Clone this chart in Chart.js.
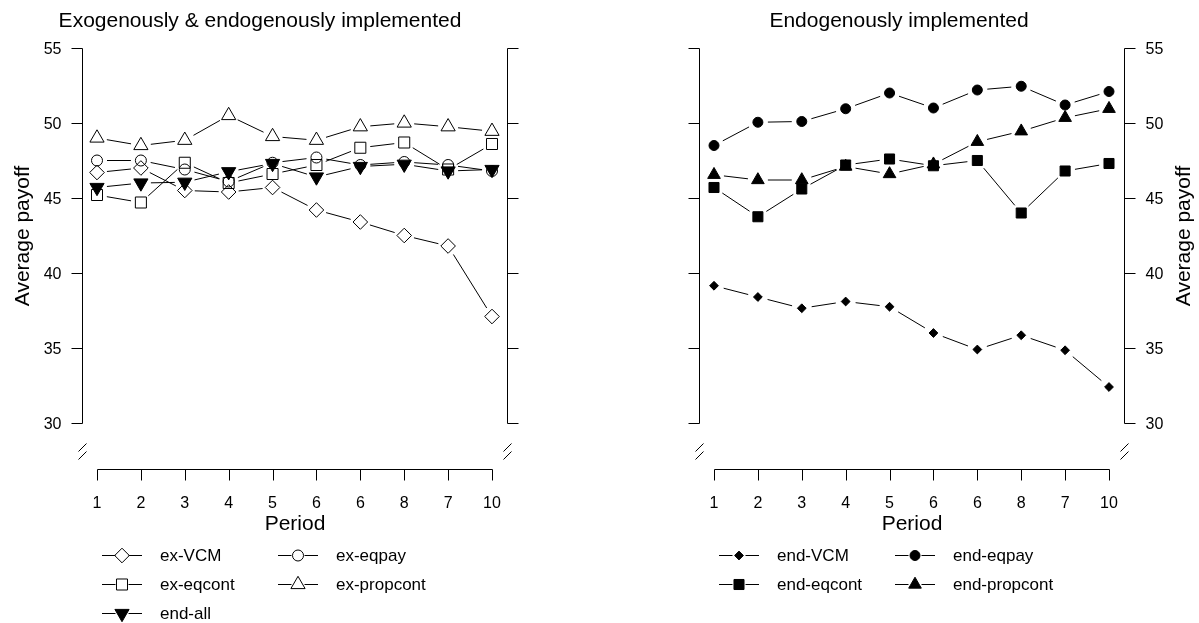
<!DOCTYPE html>
<html><head><meta charset="utf-8">
<script src="https://cdn.jsdelivr.net/npm/chart.js@4/dist/chart.umd.min.js"></script>
<style>
html,body{margin:0;padding:0;background:#fff;overflow:hidden}
#wrap{position:relative;width:1199px;height:623px;background:#fff}
canvas{position:absolute;top:0}
</style></head><body>
<div id="wrap">
<canvas id="left" width="600" height="623" style="left:0"></canvas>
<canvas id="right" width="599" height="623" style="left:600px"></canvas>
</div>
<script>
// ---- data ----
const categories = ['1','2','3','4','5','6','6','8','7','10'];
const yTickValues = [30, 35, 40, 45, 50, 55];

const leftTitle = 'Exogenously & endogenously implemented';
const rightTitle = 'Endogenously implemented';
const xTitle = 'Period';
const yTitle = 'Average payoff';

const exVCM      = [46.7, 47.0, 45.5, 45.4, 45.7, 44.2, 43.4, 42.5, 41.8, 37.1];
const exEqpay    = [47.5, 47.5, 46.9, 46.1, 47.35, 47.7, 47.2, 47.4, 47.2, 46.8];
const exEqcont   = [45.2, 44.7, 47.35, 46.0, 46.6, 47.2, 48.35, 48.7, 46.9, 48.6];
const exPropcont = [49.0, 48.5, 48.85, 50.5, 49.1, 48.85, 49.75, 50.0, 49.75, 49.45];
const endAll     = [45.7, 46.0, 46.05, 46.75, 47.3, 46.4, 47.1, 47.25, 46.8, 46.9];

const endVCM      = [39.15, 38.4, 37.65, 38.1, 37.75, 36.0, 34.9, 35.85, 34.85, 32.4];
const endEqpay    = [48.5, 50.05, 50.1, 50.95, 52.0, 51.0, 52.2, 52.45, 51.2, 52.1];
const endEqcont   = [45.7, 43.75, 45.6, 47.2, 47.6, 47.15, 47.5, 44.0, 46.8, 47.3];
const endPropcont = [46.55, 46.2, 46.2, 47.1, 46.6, 47.25, 48.75, 49.45, 50.35, 50.95];

// ---- styles ----
const FONT = '"Liberation Sans", Arial, Helvetica, sans-serif';
const MARK = {
  openDiamond:  {pointStyle:'rectRot',  radius:7.3, fill:false, rot:0},
  openCircle:   {pointStyle:'circle',   radius:5.5, fill:false, rot:0},
  openSquare:   {pointStyle:'rect',     radius:7.8, fill:false, rot:0},
  openTriangle: {pointStyle:'triangle', radius:8.2, fill:false, rot:0},
  downTriangle: {pointStyle:'triangle', radius:8.2, fill:true,  rot:180},
  smallDiamond: {pointStyle:'rectRot',  radius:4.4, fill:true,  rot:0},
  dot:          {pointStyle:'circle',   radius:5.0, fill:true,  rot:0},
  square:       {pointStyle:'rect',     radius:7.1, fill:true,  rot:0},
  triangle:     {pointStyle:'triangle', radius:7.3, fill:true,  rot:0}
};

function gapDash(ctx) {
  const L = Math.hypot(ctx.p1.x - ctx.p0.x, ctx.p1.y - ctx.p0.y);
  const g = 10;
  const d = Math.max(L - 2 * g, 0) + ctx.p0DataIndex * 1e-4;
  return [0, g, d, L + 200];
}

function mkDataset(label, data, m) {
  return {
    label, data,
    borderColor: '#000', borderWidth: 1,
    pointStyle: m.pointStyle, pointRadius: m.radius, pointHoverRadius: m.radius,
    pointRotation: m.rot,
    pointBackgroundColor: m.fill ? '#000' : 'rgba(0,0,0,0)',
    pointBorderColor: '#000', pointBorderWidth: 1,
    fill: false, tension: 0, clip: false,
    segment: { borderDash: gapDash },
    _mark: m
  };
}

function drawMarker(ctx, m, x, y) {
  ctx.save();
  ctx.strokeStyle = '#000';
  ctx.fillStyle = m.fill ? '#000' : 'rgba(0,0,0,0)';
  ctx.lineWidth = 1;
  if (Chart.helpers && Chart.helpers.drawPoint) {
    Chart.helpers.drawPoint(ctx, {pointStyle: m.pointStyle, radius: m.radius, rotation: m.rot, borderWidth: 1}, x, y);
  }
  ctx.restore();
}

function panelPlugin(cfg) {
  return {
    id: 'panel_' + cfg.id,
    beforeDatasetsDraw(chart) {
      const {ctx, chartArea: ca} = chart;
      const x = chart.scales.x, y = chart.scales.y;
      const axL = Math.round(ca.left - 15) + 0.5;
      const axR = Math.round(ca.right + 15) + 0.5;
      const yTop = Math.round(y.getPixelForValue(yTickValues[yTickValues.length - 1])) + 0.5;
      const yBot = Math.round(y.getPixelForValue(yTickValues[0])) + 0.5;
      ctx.save();
      ctx.strokeStyle = '#000';
      ctx.lineWidth = 1;
      ctx.beginPath();
      [axL, axR].forEach((ax, k) => {
        const dir = k === 0 ? -1 : 1;
        ctx.moveTo(ax, yTop); ctx.lineTo(ax, yBot);
        yTickValues.forEach(v => {
          const py = Math.round(y.getPixelForValue(v)) + 0.5;
          ctx.moveTo(ax, py); ctx.lineTo(ax + dir * 11, py);
        });
        ctx.moveTo(ax - 4, yBot + 28); ctx.lineTo(ax + 4, yBot + 20);
        ctx.moveTo(ax - 4, yBot + 36); ctx.lineTo(ax + 4, yBot + 28);
      });
      const xa = yBot + 46;
      const x0 = Math.round(x.getPixelForValue(0)) + 0.5;
      const x1 = Math.round(x.getPixelForValue(categories.length - 1)) + 0.5;
      ctx.moveTo(x0, xa); ctx.lineTo(x1, xa);
      categories.forEach((c, i) => {
        const px = Math.round(x.getPixelForValue(i)) + 0.5;
        ctx.moveTo(px, xa); ctx.lineTo(px, xa + 11);
      });
      ctx.stroke();

      ctx.fillStyle = '#000';
      ctx.font = '16px ' + FONT;
      ctx.textBaseline = 'alphabetic';
      yTickValues.forEach(v => {
        const py = y.getPixelForValue(v) + 5.7;
        if (cfg.labelSide === 'left') { ctx.textAlign = 'right'; ctx.fillText(String(v), axL - 21, py); }
        else { ctx.textAlign = 'left'; ctx.fillText(String(v), axR + 21, py); }
      });
      ctx.textAlign = 'center';
      categories.forEach((c, i) => {
        ctx.fillText(c, x.getPixelForValue(i), xa + 38);
      });
      ctx.font = '21px ' + FONT;
      ctx.fillText(xTitle, (x0 + x1) / 2, xa + 60);
      ctx.fillText(cfg.title, cfg.titleX, 27);
      // y title
      ctx.save();
      const ty = (yTop + yBot) / 2;
      const tx = cfg.labelSide === 'left' ? axL - 59 : axR + 60;
      ctx.translate(tx, ty);
      ctx.rotate(-Math.PI / 2);
      ctx.textBaseline = 'middle';
      ctx.fillText(yTitle, 0, 0);
      ctx.restore();
      ctx.restore();
    },
    afterDatasetsDraw(chart) {
      const {ctx, chartArea: ca} = chart;
      const ds = chart.data.datasets;
      const base = ca.left;
      const colOffsets = [5, 181];
      const rowYs = [555, 584, 613];
      ctx.save();
      ctx.font = '17px ' + FONT;
      ctx.fillStyle = '#000';
      ctx.textAlign = 'left';
      ctx.textBaseline = 'alphabetic';
      ds.forEach((d, i) => {
        const col = i % 2, row = Math.floor(i / 2);
        const lx = base + colOffsets[col];
        const ly = rowYs[row] + 0.5;
        const mx = lx + 20;
        ctx.strokeStyle = '#000'; ctx.lineWidth = 1;
        ctx.beginPath();
        ctx.moveTo(lx, ly); ctx.lineTo(mx - 6.5, ly);
        ctx.moveTo(mx + 6.5, ly); ctx.lineTo(lx + 40, ly);
        ctx.stroke();
        drawMarker(ctx, d._mark, mx, ly);
        ctx.fillStyle = '#000';
        ctx.fillText(d.label, lx + 58, rowYs[row] + 6);
      });
      ctx.restore();
    }
  };
}

function baseOptions(pad) {
  return {
    responsive: false, maintainAspectRatio: false, animation: false, events: [],
    layout: { padding: pad },
    plugins: { legend: { display: false }, tooltip: { enabled: false }, title: { display: false } },
    scales: {
      x: { type: 'category', display: false, offset: false },
      y: { type: 'linear', display: false, min: yTickValues[0], max: yTickValues[yTickValues.length - 1] }
    }
  };
}

new Chart(document.getElementById('left'), {
  type: 'line',
  data: {
    labels: categories,
    datasets: [
      mkDataset('ex-VCM', exVCM, MARK.openDiamond),
      mkDataset('ex-eqpay', exEqpay, MARK.openCircle),
      mkDataset('ex-eqcont', exEqcont, MARK.openSquare),
      mkDataset('ex-propcont', exPropcont, MARK.openTriangle),
      mkDataset('end-all', endAll, MARK.downTriangle)
    ]
  },
  options: baseOptions({ left: 97, right: 108, top: 48, bottom: 200 }),
  plugins: [panelPlugin({ id: 'L', labelSide: 'left', title: leftTitle, titleX: 260 })]
});

new Chart(document.getElementById('right'), {
  type: 'line',
  data: {
    labels: categories,
    datasets: [
      mkDataset('end-VCM', endVCM, MARK.smallDiamond),
      mkDataset('end-eqpay', endEqpay, MARK.dot),
      mkDataset('end-eqcont', endEqcont, MARK.square),
      mkDataset('end-propcont', endPropcont, MARK.triangle)
    ]
  },
  options: baseOptions({ left: 114, right: 90, top: 48, bottom: 200 }),
  plugins: [panelPlugin({ id: 'R', labelSide: 'right', title: rightTitle, titleX: 299 })]
});
</script>
</body></html>
